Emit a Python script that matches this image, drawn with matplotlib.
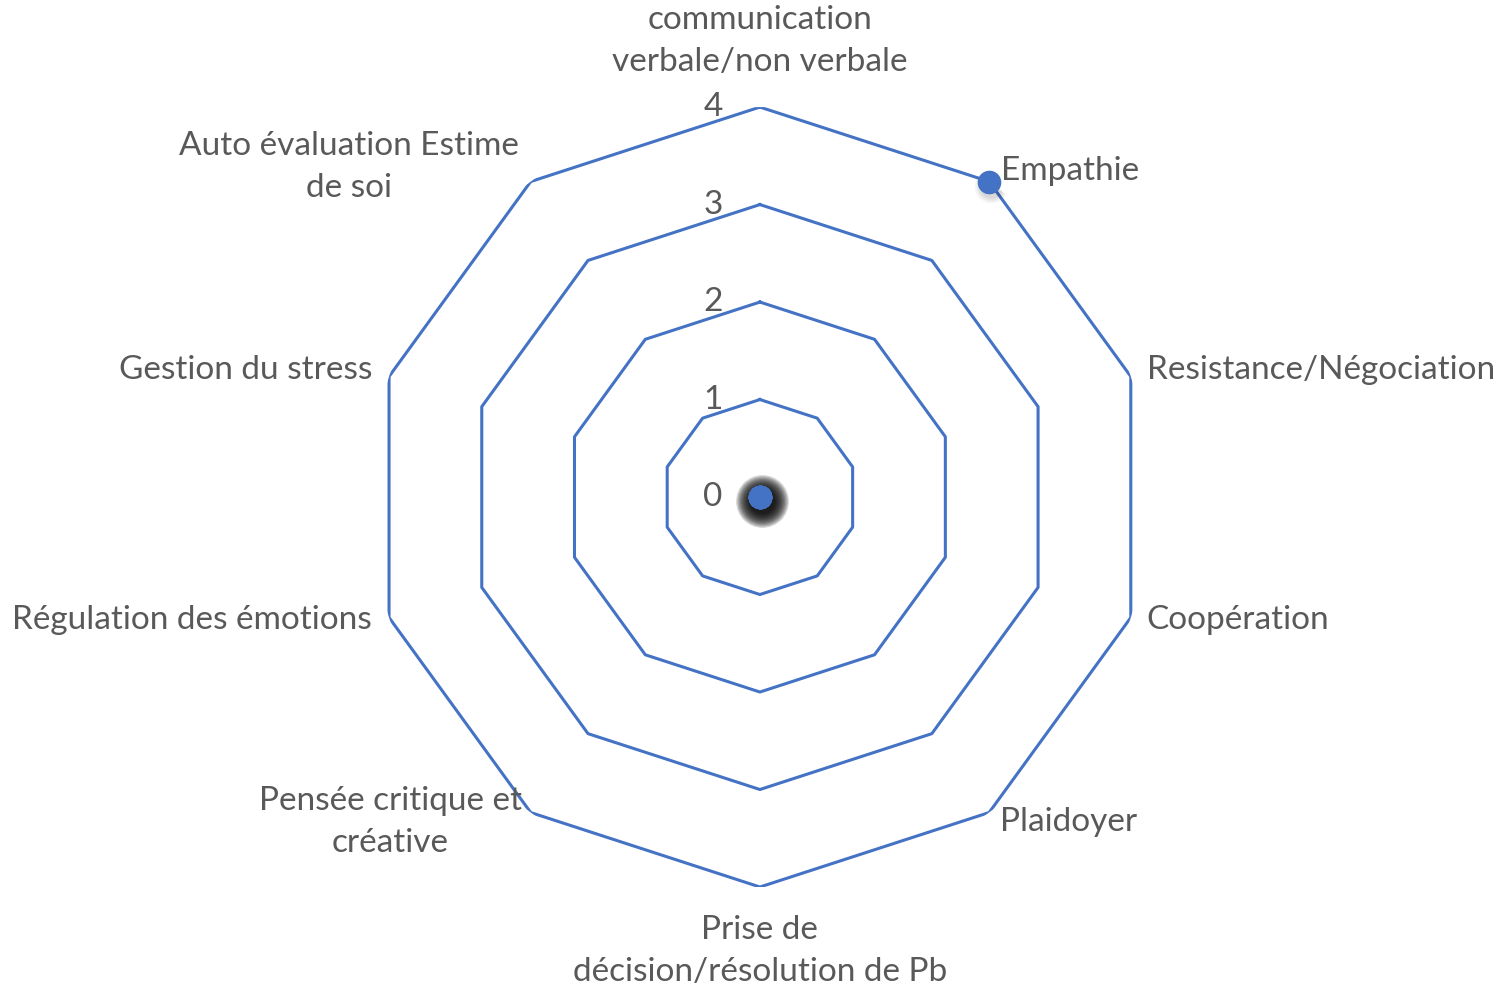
import numpy as np
import matplotlib.pyplot as plt
from matplotlib import transforms

# --- Data ---
categories = [
    "communication\nverbale/non verbale",
    "Empathie",
    "Resistance/Négociation",
    "Coopération",
    "Plaidoyer",
    "Prise de\ndécision/résolution de Pb",
    "Pensée critique et\ncréative",
    "Régulation des émotions",
    "Gestion du stress",
    "Auto évaluation Estime\nde soi",
]
values = [0, 4, 0, 0, 0, 0, 0, 0, 0, 0]
levels = [1, 2, 3, 4]
tick_labels = ["0", "1", "2", "3", "4"]

BLUE = "#4472C4"
GREY = "#595959"
FS = 24
plt.rcParams["font.family"] = ["Lato", "DejaVu Sans"]

n = len(categories)
theta = np.arange(n) * 2 * np.pi / n

fig = plt.figure(figsize=(14.99, 9.86), dpi=100)
ax = fig.add_axes([0.2468, 0.1004, 0.5203, 0.791], projection="polar")
ax.set_theta_zero_location("N")
ax.set_theta_direction(-1)
ax.set_ylim(0, 4)
ax.grid(False)
ax.spines["polar"].set_visible(False)
ax.set_xticks([])
ax.set_yticks([])
ax.patch.set_alpha(0)

# polygon gridlines
closed = np.append(theta, theta[0])
for lv in levels:
    ax.plot(closed, [lv] * (n + 1), color=BLUE, lw=2.2, zorder=2)

# radial tick labels, left of the vertical axis
for i, t in enumerate(tick_labels):
    ax.annotate(t, (0, i), xytext=(-47, 0), textcoords="offset pixels",
                ha="center", va="center", fontsize=FS, color=GREY,
                annotation_clip=False)

# category labels (offset from each outer vertex, in pixels)
label_pos = [
    ((0, 30), "center", "bottom"),
    ((12, 11), "left", "center"),
    ((16, 7), "left", "center"),
    ((16, -2), "left", "center"),
    ((11, -9), "left", "center"),
    ((0, -28), "center", "top"),
    ((-9, -9), "right", "center"),
    ((-17, -2), "right", "center"),
    ((-17, 7), "right", "center"),
    ((-12, 15), "right", "center"),
]
for t, lab, (off, ha, va) in zip(theta, categories, label_pos):
    ax.annotate(lab, (t, 4), xytext=off, textcoords="offset pixels",
                ha=ha, va=va, multialignment="center", fontsize=FS,
                color=GREY, linespacing=1.5, annotation_clip=False)

# soft shadow under the markers (stacked translucent discs)
shadow = transforms.offset_copy(ax.transData, fig=fig, x=2, y=-4, units="dots")
zero_t = [t for t, v in zip(theta, values) if v == 0]
for size in np.linspace(38, 18, 12):
    ax.plot(zero_t[:1], [0], "o", ms=size, color="black", alpha=0.16,
            mec="none", transform=shadow, zorder=3)
big_t = [t for t, v in zip(theta, values) if v > 0]
big_v = [v for v in values if v > 0]
for size in np.linspace(24, 17, 4):
    ax.plot(big_t, big_v, "o", ms=size, color="black", alpha=0.04,
            mec="none", transform=shadow, zorder=3)

ax.plot(theta, values, "o", ls="none", ms=17, color=BLUE, mec="none",
        zorder=4, clip_on=False)

fig.savefig("out.png", dpi=100)
